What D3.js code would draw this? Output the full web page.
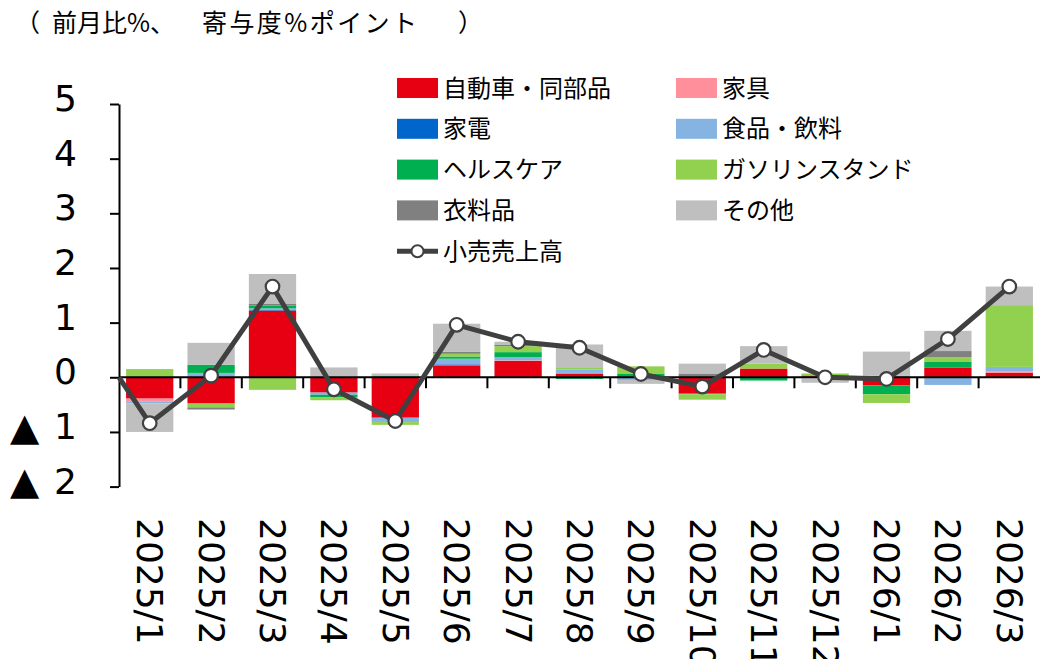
<!DOCTYPE html>
<html><head><meta charset="utf-8">
<script src="https://cdn.jsdelivr.net/npm/d3@7"></script>
<style>
html,body{margin:0;padding:0;background:#fff;}
svg{display:block;}
</style></head>
<body>
<svg id="chart" width="1040" height="659"></svg>
<script>
// ---- data ----
const months = ["2025/1","2025/2","2025/3","2025/4","2025/5","2025/6","2025/7","2025/8","2025/9","2025/10","2025/11","2025/12","2026/1","2026/2","2026/3"];
const seriesNames = ["自動車・同部品","家具","家電","食品・飲料","ヘルスケア","ガソリンスタンド","衣料品","その他"];
const autoParts  = [-0.39,-0.48, 1.22,-0.28,-0.74, 0.22, 0.30, 0.07, 0.00,-0.29, 0.16, 0.02,-0.15, 0.18, 0.08];
const furniture  = [-0.05, 0.00, 0.00, 0.00, 0.00, 0.01, 0.01, 0.01, 0.00, 0.00, 0.00, 0.01, 0.00, 0.00, 0.03];
const appliances = [ 0.00, 0.01, 0.01, 0.01, 0.00, 0.01, 0.00, 0.00, 0.00, 0.00, 0.00, 0.00, 0.01, 0.00, 0.00];
const foodBev    = [-0.04, 0.07, 0.03,-0.04,-0.08, 0.10, 0.06, 0.06,-0.05, 0.00, 0.00,-0.02, 0.00,-0.14, 0.08];
const healthCare = [ 0.00, 0.15, 0.05,-0.05, 0.02, 0.04, 0.09,-0.03, 0.06,-0.02,-0.06, 0.01,-0.16, 0.10, 0.00];
const gasStation = [ 0.15,-0.07,-0.23,-0.05,-0.05, 0.05, 0.11, 0.03, 0.14,-0.10, 0.09, 0.03,-0.16, 0.09, 1.13];
const clothing   = [ 0.00,-0.04, 0.04, 0.00, 0.00, 0.04, 0.03, 0.00, 0.00, 0.07, 0.00, 0.00, 0.02, 0.11, 0.00];
const others     = [-0.52, 0.40, 0.54, 0.17, 0.05, 0.51, 0.05, 0.43,-0.07, 0.18, 0.32,-0.08, 0.44, 0.37, 0.34];
const retailSales= [-0.84, 0.03, 1.66,-0.22,-0.80, 0.96, 0.65, 0.54, 0.06,-0.17, 0.50, 0.00,-0.03, 0.70, 1.66];
const lineName = "小売売上高";
const yTickValues = [-2,-1,0,1,2,3,4,5];
const yTickLabels = ["2","1","0","1","2","3","4","5"];
const negMark = "▲";
const titleText = ["（","前月比%、","寄与度%ポイント","）"];

const colors = ["#E60012","#FF8F9A","#0066CC","#85B4E3","#00B050","#92D050","#808080","#BFBFBF"];
const seriesValues = [autoParts,furniture,appliances,foodBev,healthCare,gasStation,clothing,others];

// ---- build table ----
const table = months.map((m,i)=>{
  const row = {month:m};
  seriesNames.forEach((s,j)=>row[s]=seriesValues[j][i]);
  return row;
});

const svg = d3.select("#chart");
const x = d3.scaleBand().domain(months).range([119,1040]).padding(0);
const y = d3.scaleLinear().domain([-2,5]).range([486.6,104]);
const barW = x.bandwidth()*0.77;

const stack = d3.stack().keys(seriesNames).offset(d3.stackOffsetDiverging);
const layers = stack(table);

// bars
svg.append("g").selectAll("g").data(layers).join("g")
  .attr("fill",(d,i)=>colors[i])
  .selectAll("rect").data(d=>d).join("rect")
  .attr("x",d=>x(d.data.month)+(x.bandwidth()-barW)/2)
  .attr("width",barW)
  .attr("y",d=>y(Math.max(d[0],d[1])))
  .attr("height",d=>Math.abs(y(d[0])-y(d[1])));

// x axis line at zero with category boundary ticks
const xg = svg.append("g");
xg.append("line").attr("x1",x.range()[0]).attr("x2",x.range()[1])
  .attr("y1",y(0)).attr("y2",y(0)).attr("stroke","#000").attr("stroke-width",2);
xg.selectAll("line.tk").data(months.slice(1)).join("line").attr("class","tk")
  .attr("x1",d=>x(d)).attr("x2",d=>x(d))
  .attr("y1",y(0)).attr("y2",y(0)+11)
  .attr("stroke","#000").attr("stroke-width",2);

// x labels (rotated)
svg.append("g").selectAll("text").data(months).join("text")
  .attr("transform",d=>`translate(${x(d)+x.bandwidth()/2},518) rotate(90)`)
  .attr("dominant-baseline","central")
  .attr("font-family","DejaVu Sans")
  .attr("font-size",36)
  .attr("fill","#000")
  .text(d=>d);

// y axis
const yAxis = d3.axisLeft(y).tickValues(yTickValues).tickSize(9).tickSizeOuter(0).tickPadding(33)
  .tickFormat((d,i)=>yTickLabels[i]);
const yg = svg.append("g").attr("transform","translate(119,0)").call(yAxis);
yg.select(".domain").attr("stroke","#000").attr("stroke-width",2);
yg.selectAll(".tick line").attr("stroke","#000").attr("stroke-width",2);
yg.selectAll(".tick text").attr("font-family","DejaVu Sans").attr("font-size",36)
  .attr("fill","#000").attr("y",-5);
yg.selectAll(".tick").filter(d=>d<0).append("text")
  .attr("x",-109).attr("y",-5).attr("dy","0.32em").attr("text-anchor","start")
  .attr("font-family","DejaVu Sans").attr("font-size",38).attr("fill","#000")
  .text(negMark);

// line series
const pts = months.map((m,i)=>[x(m)+x.bandwidth()/2, y(retailSales[i])]);
const linePts = [[x.range()[0], y(0)]].concat(pts);
svg.append("path").attr("d",d3.line()(linePts))
  .attr("fill","none").attr("stroke","#404040").attr("stroke-width",5).attr("stroke-linejoin","round");
svg.append("g").selectAll("circle").data(pts).join("circle")
  .attr("cx",d=>d[0]).attr("cy",d=>d[1]).attr("r",6.8)
  .attr("fill","#fff").attr("stroke","#404040").attr("stroke-width",2.2);

// title
const tf = "'Noto Sans CJK JP'";
const title = svg.append("text").attr("font-family",tf).attr("font-size",25).attr("fill","#000").attr("y",32);
const titleX = [15,52,202,458];
const titleLen = [null,null,215,null];
titleText.forEach((t,i)=>{
  const ts = title.append("tspan").attr("x",titleX[i]).text(t);
  if(titleLen[i]) ts.attr("textLength",titleLen[i]).attr("lengthAdjust","spacing");
});

// legend
const leg = svg.append("g");
const legItems = seriesNames.map((s,i)=>({name:s,color:colors[i],col:i%2,row:Math.floor(i/2)}));
const colX = [397,676], rowY0 = 88, rowH = 40.8;
const li = leg.selectAll("g").data(legItems).join("g")
  .attr("transform",d=>`translate(${colX[d.col]},${rowY0+d.row*rowH})`);
li.append("rect").attr("x",0).attr("y",-10).attr("width",41).attr("height",20).attr("fill",d=>d.color);
li.append("text").attr("x",46).attr("y",-2).attr("dominant-baseline","central")
  .attr("font-family",tf).attr("font-size",24).attr("fill","#000").text(d=>d.name);
const ll = leg.append("g").attr("transform",`translate(${colX[0]},${rowY0+4*rowH})`);
ll.append("line").attr("x1",0).attr("x2",41).attr("y1",0).attr("y2",0).attr("stroke","#404040").attr("stroke-width",5);
ll.append("circle").attr("cx",20.5).attr("cy",0).attr("r",6).attr("fill","#fff").attr("stroke","#404040").attr("stroke-width",2);
ll.append("text").attr("x",46).attr("y",-2).attr("dominant-baseline","central")
  .attr("font-family",tf).attr("font-size",24).attr("fill","#000").text(lineName);
</script>
</body></html>
